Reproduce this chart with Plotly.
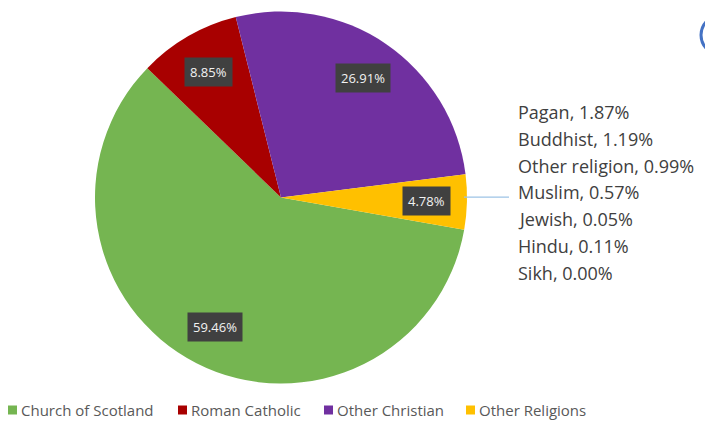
import math
import plotly.graph_objects as go

# ---- data ----
labels = ["Church of Scotland", "Roman Catholic", "Other Christian", "Other Religions"]
values = [59.46, 8.85, 26.91, 4.78]
colors = ["#75B551", "#A80000", "#7030A0", "#FFC000"]

other_labels = ["Pagan", "Buddhist", "Other religion", "Muslim", "Jewish", "Hindu", "Sikh"]
other_values = [1.87, 1.19, 0.99, 0.57, 0.05, 0.11, 0.00]

# legend layout (pixel x of each marker)
legend_x = [8, 178, 324, 466]

W, H = 705, 423
cx_px, cy_px, R = 281, 197.5, 186
rotation = 100

fig = go.Figure(go.Pie(
    labels=labels, values=values, sort=False, direction="clockwise",
    rotation=rotation, textinfo="none", hoverinfo="label+percent",
    marker=dict(colors=colors, line=dict(width=0)),
    domain=dict(x=[(cx_px - R) / W, (cx_px + R) / W],
                y=[1 - (cy_px + R) / H, 1 - (cy_px - R) / H]),
    showlegend=False,
))

annotations = []
shapes = []
total = sum(values)
start = rotation
mids = []
for lab, v in zip(labels, values):
    span = v / total * 360
    mid = start + span / 2
    mids.append(mid)
    a = math.radians(mid)
    fr = 0.78
    x = (cx_px + fr * R * math.sin(a)) / W
    y = 1 - (cy_px - fr * R * math.cos(a)) / H
    annotations.append(dict(
        x=x, y=y, xref="paper", yref="paper", xanchor="center", yanchor="middle",
        text=f"{v:.2f}%", showarrow=False,
        font=dict(family="Open Sans, sans-serif", size=13, color="#F2F2F2"),
        bgcolor="#404040", borderpad=5,
    ))
    start += span

# leader line from "Other Religions" slice
a = math.radians(mids[3])
ex = cx_px + R * math.sin(a) - 3
ey = cy_px - R * math.cos(a) - 5
shapes.append(dict(type="line", xref="paper", yref="paper",
                   x0=ex / W, x1=509 / W, y0=1 - ey / H, y1=1 - ey / H,
                   line=dict(color="#9DC3E6", width=1.2)))

top_px, step_px = 112, 26.8
for i, (lab, v) in enumerate(zip(other_labels, other_values)):
    annotations.append(dict(
        x=516 / W, y=1 - (top_px + i * step_px) / H, xref="paper", yref="paper",
        xanchor="left", yanchor="middle", text=f"{lab}, {v:.2f}%", showarrow=False,
        font=dict(family="Open Sans, sans-serif", size=18, color="#404040"),
    ))

# manual legend
ly = 410
for lx, lab, col in zip(legend_x, labels, colors):
    shapes.append(dict(type="rect", xref="paper", yref="paper",
                       x0=lx / W, x1=(lx + 9) / W, y0=1 - (ly + 4.5) / H, y1=1 - (ly - 4.5) / H,
                       fillcolor=col, line=dict(width=0)))
    annotations.append(dict(
        x=(lx + 11) / W, y=1 - ly / H, xref="paper", yref="paper",
        xanchor="left", yanchor="middle", text=lab, showarrow=False,
        font=dict(family="Open Sans, sans-serif", size=15, color="#595959"),
    ))

# partial blue circle at top right edge
shapes.append(dict(type="circle", xref="paper", yref="paper",
                   x0=701 / W, x1=741 / W, y0=1 - 55 / H, y1=1 - 15 / H,
                   line=dict(color="#4472C4", width=3)))

fig.update_layout(
    width=W, height=H, margin=dict(l=0, r=0, t=0, b=0),
    paper_bgcolor="white", plot_bgcolor="white",
    annotations=annotations, shapes=shapes, showlegend=False,
)

fig.write_html("out.html")
